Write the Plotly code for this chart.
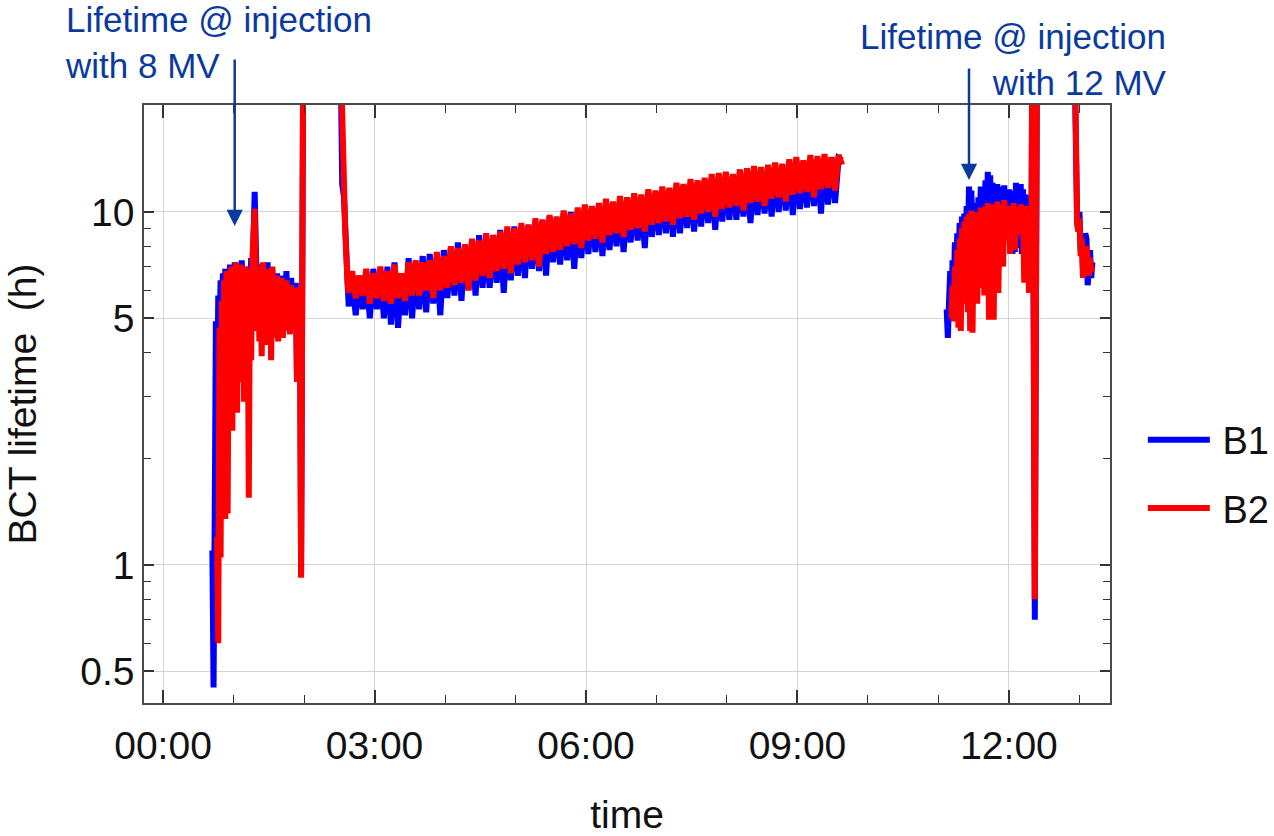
import math
import pandas as pd
import plotly.graph_objects as go

DAY = pd.Timestamp("2018-06-14")

# ---------------- B1 (blue) ----------------
# injection with 8 MV (minutes after midnight)
b1_inj8_t = [42, 43, 44, 45, 46, 47, 48, 49, 50, 51, 52, 53, 54, 55, 56, 57, 58, 59, 60, 61,
             62, 63, 64, 65, 66, 67, 68, 69, 70, 71, 72, 73, 74, 75, 76, 77, 78, 79, 80, 81,
             82, 83, 84, 85, 86, 87, 88, 89, 90, 91, 92, 93, 94, 95, 96, 97, 98, 99, 100, 101,
             102, 103, 104, 105, 106, 107, 108, 109, 110, 111, 112, 113, 114, 115, 116.5, 117.5, 119.5]
b1_inj8 = [1.1, 0.45, 1.4, 4.9, 2.6, 5.8, 4.4, 6.4, 5.2, 6.7, 4.9, 6.9, 5.6, 6.6, 4.7, 7.1, 5.4, 6.8, 5.0, 7.2,
           5.9, 6.6, 4.6, 6.9, 5.3, 7.3, 5.5, 6.4, 4.8, 6.9, 5.7, 7.0, 5.1, 7.4, 6.2, 9.5, 11.4, 8.0, 5.6, 7.1,
           4.6, 6.8, 5.3, 7.0, 4.5, 6.5, 5.1, 7.2, 4.7, 6.6, 5.4, 6.9, 4.5, 6.3, 5.0, 6.7, 4.8, 6.4, 5.2, 6.6,
           4.6, 6.2, 5.1, 6.8, 5.3, 6.1, 4.9, 6.5, 5.6, 6.0, 5.0, 6.3, 3.4, 5.7, 6.0, 0.95, 40]

# ramp-down / coast: lead-in and regular 3-minute samples
b1_lead_t = [151, 152.5, 154, 156, 157]
b1_lead = [30, 12.0, 11.0, 7.5, 5.8]
b1_coast_t = list(range(158, 579, 3))
b1_coast = [5.4, 6.5, 5.1, 6.6, 5.3, 6.6, 5.0, 6.9, 5.3, 6.8,
            5.0, 7.0, 4.8, 7.2, 4.7, 6.7, 5.1, 7.4, 5.0, 7.2,
            5.3, 7.5, 5.2, 7.6, 5.5, 7.4, 5.1, 7.8, 5.7, 7.9,
            5.8, 8.2, 5.6, 8.0, 6.0, 8.3, 5.8, 8.6, 6.1, 8.5,
            6.1, 8.6, 6.3, 8.9, 5.9, 8.8, 6.4, 9.1, 6.6, 9.0,
            6.5, 9.2, 6.9, 9.3, 6.8, 9.5, 6.6, 9.7, 7.2, 9.6,
            7.1, 9.9, 7.3, 10.0, 6.9, 10.1, 7.4, 10.3, 7.6, 10.2,
            7.7, 10.4, 7.5, 10.5, 7.8, 10.6, 8.0, 10.7, 7.7, 10.8,
            8.2, 11.0, 8.3, 11.1, 7.9, 11.3, 8.5, 11.2, 8.6, 11.5,
            8.7, 11.6, 8.5, 11.8, 8.7, 11.9, 9.0, 12.0, 8.8, 12.1,
            9.1, 12.3, 9.3, 12.4, 8.9, 12.6, 9.4, 12.7, 9.5, 12.6,
            9.5, 12.9, 9.7, 13.0, 9.3, 13.2, 9.8, 13.3, 9.9, 13.2,
            9.7, 13.4, 10.0, 13.6, 10.1, 13.7, 9.8, 13.9, 10.2, 13.8,
            10.3, 14.0, 10.4, 14.1, 9.9, 14.2, 10.5, 14.3, 10.6, 14.2,
            14.0]

# injection with 12 MV
b1_inj12_t = list(range(667, 740)) + [740, 742, 744]
b1_inj12 = [5.3, 4.4, 5.6, 6.8, 5.2, 7.3, 6.0, 8.2, 6.4, 8.7,
            6.6, 9.3, 7.0, 9.7, 7.5, 9.9, 7.4, 10.4, 8.0, 11.8,
            8.5, 11.5, 8.3, 10.6, 8.8, 10.3, 8.0, 11.0, 8.6, 11.8,
            9.0, 11.5, 8.7, 12.3, 9.1, 13.0, 9.4, 12.7, 9.0, 12.1,
            9.3, 11.6, 8.9, 12.0, 9.5, 11.8, 9.2, 11.5, 9.6, 11.9,
            9.0, 11.4, 9.3, 11.6, 8.4, 11.3, 7.6, 11.5, 7.7, 12.1,
            7.9, 11.8, 8.2, 12.0, 7.6, 11.6, 8.0, 11.2, 9.0, 10.5,
            7.8, 10.0, 6.5,
            40, 0.70, 40]

# last fill
b1_end_t = [775, 776.5, 778, 779, 780, 781, 782, 783, 784, 785, 786, 787, 788, 789, 790, 791]
b1_end = [40, 12.0, 9.6, 9.0, 10.0, 7.8, 8.6, 6.8, 8.2, 8.7, 8.4, 6.2, 6.9, 7.8, 6.5, 7.2]

# ---------------- B2 (red) ----------------
b2_inj8_t = [46, 47, 48, 49, 50, 51, 52, 53, 54, 55, 56, 57, 58, 59, 60, 61, 62, 63, 64, 65,
             66, 67, 68, 69, 70, 71, 72, 73, 74, 75, 76, 77, 78, 79, 80, 81, 82, 83, 84, 85,
             86, 87, 88, 89, 90, 91, 92, 93, 94, 95, 96, 97, 98, 99, 100, 101, 102, 103, 104, 105,
             106, 107, 108, 109, 110, 111, 112, 113, 114, 115, 116.5, 117.5, 119.5]
b2_inj8 = [1.2, 0.6, 4.7, 1.05, 5.6, 2.2, 6.4, 1.35, 6.8, 1.4, 6.2, 3.0, 7.0, 2.4, 6.6, 3.6, 7.2, 2.7, 6.5, 3.3,
           7.1, 4.0, 6.4, 2.9, 7.0, 4.4, 6.6, 1.55, 6.9, 3.8, 7.3, 8.8, 10.2, 6.5, 4.6, 7.0, 4.3, 6.5, 3.9, 7.2,
           4.5, 6.1, 4.2, 6.9, 4.6, 6.3, 3.8, 7.0, 4.4, 6.2, 4.7, 6.6, 4.3, 6.0, 4.8, 6.5, 4.4, 5.9, 4.6, 6.4,
           5.0, 5.8, 4.5, 6.2, 5.2, 5.7, 4.8, 6.1, 3.3, 5.9, 6.1, 0.92, 40]

b2_lead_t = [151, 153, 155, 157]
b2_lead = [30, 13.5, 9.0, 6.3]
b2_coast_t = list(range(158, 579, 3))
b2_coast = [5.9, 6.8, 5.7, 6.6, 5.8, 6.9, 5.5, 6.7, 5.7, 7.0,
            5.6, 6.8, 5.5, 7.1, 5.7, 6.7, 5.6, 7.2, 5.8, 7.3,
            5.8, 7.2, 6.0, 7.3, 5.7, 7.7, 6.0, 7.5, 6.1, 8.0,
            6.2, 7.9, 6.3, 8.1, 6.0, 8.4, 6.4, 8.3, 6.6, 8.7,
            6.5, 8.6, 6.8, 8.8, 6.9, 9.1, 6.7, 9.0, 7.1, 9.3,
            7.2, 9.2, 7.3, 9.6, 7.0, 9.5, 7.6, 9.8, 7.7, 9.7,
            7.8, 10.1, 8.0, 9.9, 8.1, 10.3, 7.9, 10.5, 8.3, 10.4,
            8.4, 10.6, 8.2, 10.9, 8.6, 10.7, 8.7, 11.1, 8.5, 11.0,
            8.9, 11.3, 9.0, 11.2, 8.8, 11.6, 9.2, 11.5, 9.3, 11.8,
            9.4, 11.7, 9.2, 12.1, 9.6, 12.0, 9.7, 12.4, 9.5, 12.3,
            9.9, 12.5, 10.0, 12.8, 9.7, 12.9, 10.2, 13.0, 10.3, 12.8,
            10.4, 13.2, 10.1, 13.3, 10.6, 13.5, 10.7, 13.4, 10.4, 13.6,
            10.9, 13.8, 11.0, 13.7, 10.7, 14.1, 11.2, 14.3, 11.3, 14.0,
            11.4, 14.5, 11.0, 14.4, 11.6, 14.6, 11.7, 14.3, 11.5, 14.5,
            13.6]

b2_inj12_t = list(range(671, 740)) + [740, 742, 744]
b2_inj12 = [5.0, 6.2, 4.9, 7.0, 5.3, 7.8, 4.7, 8.4, 4.6, 9.0,
            5.5, 9.4, 6.0, 9.7, 5.2, 9.9, 4.6, 10.1, 4.55, 9.6,
            6.4, 10.0, 5.5, 9.8, 6.3, 10.3, 6.1, 10.0, 5.8, 10.4,
            6.5, 10.6, 4.95, 10.2, 5.6, 10.5, 4.95, 10.3, 6.8, 10.7,
            5.9, 10.0, 8.4, 10.5, 7.0, 10.8, 8.3, 10.1, 8.9, 10.4,
            7.6, 10.2, 8.1, 10.6, 7.8, 10.0, 8.6, 10.3, 8.8, 10.5,
            8.9, 10.1, 6.3, 10.4, 7.4, 9.8, 5.9, 10.0, 5.9,
            40, 0.80, 40]

b2_end_t = [775.5, 777.5, 778, 779, 780, 781, 782, 783, 784, 785, 786, 787, 788, 789, 790, 791]
b2_end = [40, 10.0, 9.2, 8.8, 9.6, 7.5, 8.4, 6.5, 7.8, 6.9, 8.0, 7.2, 6.6, 7.4, 6.8, 7.0]


def join(*segments):
    """Concatenate (minutes, values) segments with gaps between them."""
    xs, ys = [], []
    for i, (ts, vs) in enumerate(segments):
        if i:
            xs.append(None)
            ys.append(None)
        xs += [DAY + pd.Timedelta(minutes=m) for m in ts]
        ys += list(vs)
    return xs, ys


b1_x, b1_y = join((b1_inj8_t, b1_inj8), (b1_lead_t + b1_coast_t, b1_lead + b1_coast),
                  (b1_inj12_t, b1_inj12), (b1_end_t, b1_end))
b2_x, b2_y = join((b2_inj8_t, b2_inj8), (b2_lead_t + b2_coast_t, b2_lead + b2_coast),
                  (b2_inj12_t, b2_inj12), (b2_end_t, b2_end))

FONT = "Liberation Sans, Arial, Helvetica, sans-serif"
NOTE = "#0b3a9e"

fig = go.Figure()
fig.add_trace(go.Scatter(x=b1_x, y=b1_y, mode="lines", name="\u2009B1", legendgroup="b1",
                         line=dict(color="#0000ff", width=6), connectgaps=False))
fig.add_trace(go.Scatter(x=b2_x, y=b2_y, mode="lines", name="\u2009B2", legendgroup="b2",
                         line=dict(color="#ff0000", width=6), connectgaps=False))

x_start = DAY - pd.Timedelta(minutes=16.2)
x_end = DAY + pd.Timedelta(minutes=806)

fig.update_layout(
    width=1274, height=836,
    margin=dict(l=144, r=164, t=105, b=133, autoexpand=False),
    paper_bgcolor="white", plot_bgcolor="white",
    font=dict(family=FONT, size=39, color="#111111"),
    showlegend=True,
    legend=dict(x=1.034, y=0.383, xanchor="left", yanchor="middle",
                font=dict(size=38), itemwidth=62, tracegroupgap=16,
                borderwidth=0, bgcolor="rgba(0,0,0,0)"),
    xaxis=dict(
        type="date", range=[x_start, x_end], automargin=False,
        tickformat="%H:%M", tick0=DAY, dtick=3 * 3600 * 1000,
        ticks="inside", ticklen=13, tickwidth=1.5, tickcolor="#333333",
        showline=True, linecolor="#4a4a4a", linewidth=1.5, mirror="ticks",
        showgrid=True, gridcolor="#d4d4d4", gridwidth=1, zeroline=False,
        minor=dict(tick0=DAY, dtick=3600 * 1000, ticks="inside", ticklen=8,
                   tickwidth=1.2, tickcolor="#333333", showgrid=False),
        tickfont=dict(size=39), ticklabelstandoff=7,
        title=dict(text="time", font=dict(size=39), standoff=36),
    ),
    yaxis=dict(
        type="log", range=[-0.391, 1.303], automargin=False,
        tickvals=[0.5, 1, 5, 10], ticktext=["0.5", "1", "5", "10"],
        ticks="inside", ticklen=10, tickwidth=1.5, tickcolor="#333333",
        showline=True, linecolor="#4a4a4a", linewidth=1.5, mirror="ticks",
        showgrid=True, gridcolor="#d4d4d4", gridwidth=1, zeroline=False,
        minor=dict(tickvals=[0.6, 0.7, 0.8, 0.9, 2, 3, 4, 6, 7, 8, 9, 20],
                   ticks="inside", ticklen=7, tickwidth=1.2, tickcolor="#333333",
                   showgrid=False),
        tickfont=dict(size=39),
        title=dict(text="BCT lifetime  (h)", font=dict(size=39), standoff=32),
    ),
)

# annotation texts
fig.add_annotation(xref="paper", yref="paper", x=-0.0839, y=1.1037,
                   xanchor="left", yanchor="middle", align="left", showarrow=False,
                   text="Lifetime @ injection<br>with 8 MV",
                   font=dict(size=35, color=NOTE, family=FONT))
fig.add_annotation(xref="paper", yref="paper", x=1.0611, y=1.0760,
                   xanchor="right", yanchor="middle", align="right", showarrow=False,
                   text="Lifetime @ injection<br>with 12 MV",
                   font=dict(size=35, color=NOTE, family=FONT))

# arrows pointing at the injection plateaus
for tmin, val, dy in [(61, 10 ** 0.9603, -168), (686, 10 ** 1.0907, -113)]:
    fig.add_annotation(x=DAY + pd.Timedelta(minutes=tmin), y=math.log10(val),
                       xref="x", yref="y", text="", showarrow=True,
                       ax=0, ay=dy, arrowhead=2, arrowsize=1.3, arrowwidth=2.5,
                       arrowcolor=NOTE, standoff=0)

fig.write_html("out.html")
